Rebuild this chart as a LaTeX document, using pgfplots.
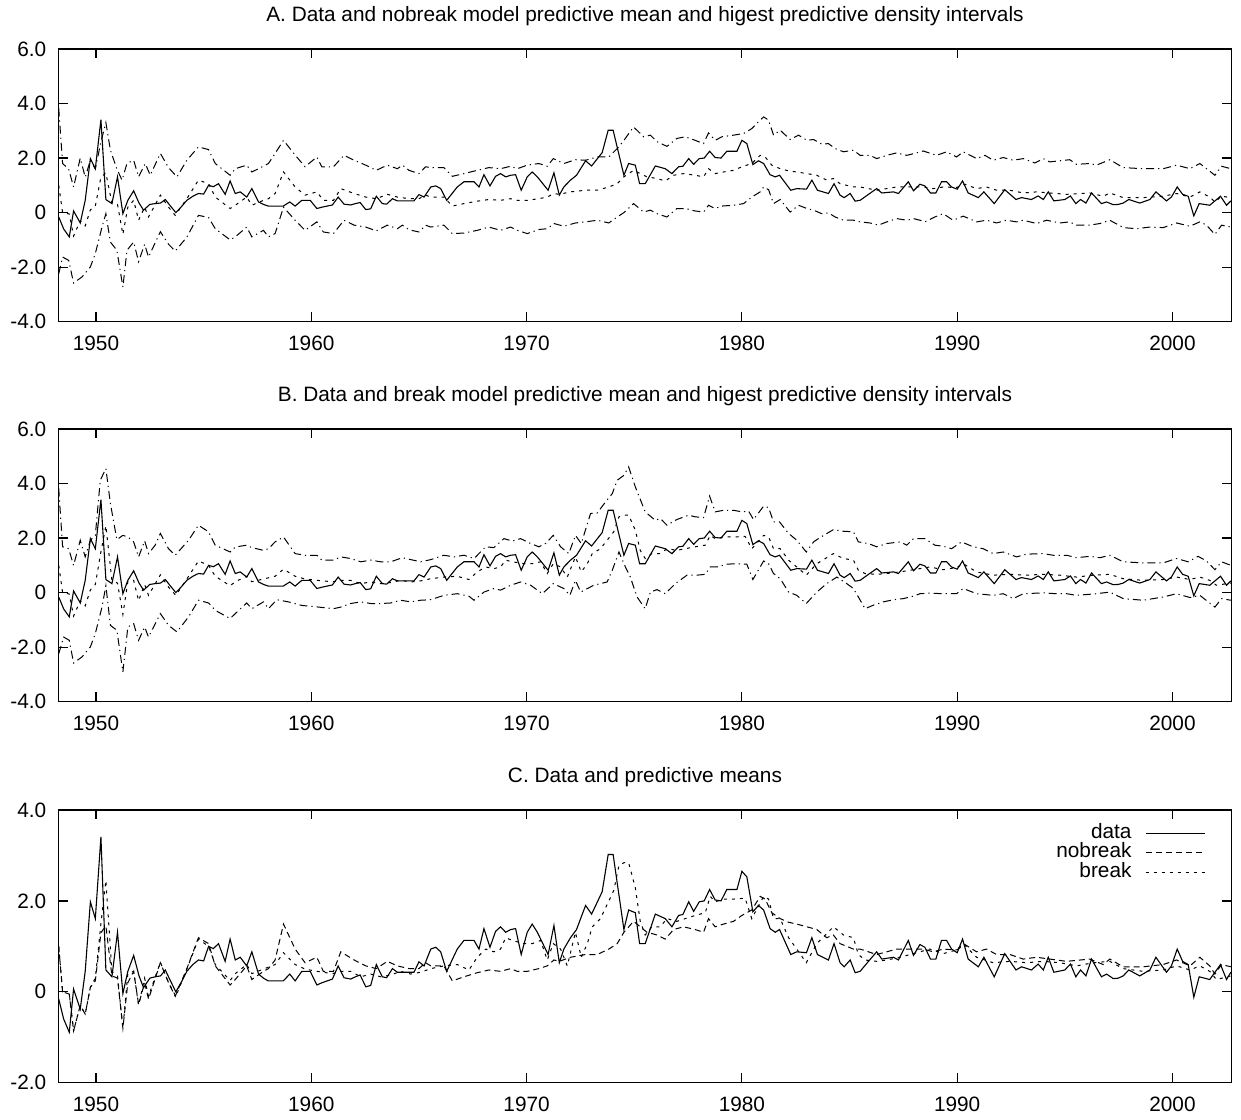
\documentclass[border=0pt]{standalone}
\usepackage{fontspec}
\setmainfont{Liberation Sans}
\usepackage{pgfplots}
\pgfplotsset{compat=1.18}
\usepackage{pgfplotstable}

% observed series (quarterly, approx.)
\pgfplotstableread[row sep=\\]{
x y\\
1948.27 -0.16\\ 1948.5 -0.6\\ 1948.76 -0.89\\ 1948.96 0.06\\ 1949.27 -0.38\\ 1949.5 0.45\\ 1949.74 1.98\\ 1949.97 1.61\\
1950.23 3.41\\ 1950.46 0.48\\ 1950.74 0.33\\ 1951.0 1.31\\ 1951.25 -0.04\\ 1951.48 0.45\\ 1951.75 0.8\\ 1952.0 0.35\\
1952.21 0.09\\ 1952.5 0.3\\ 1952.75 0.33\\ 1953.0 0.35\\ 1953.22 0.48\\ 1953.45 0.25\\ 1953.71 0.0\\ 1953.95 0.2\\
1954.22 0.45\\ 1954.5 0.6\\ 1954.76 0.7\\ 1955.0 0.68\\ 1955.23 1.0\\ 1955.45 0.95\\ 1955.69 1.06\\ 1956.0 0.67\\
1956.23 1.16\\ 1956.47 0.7\\ 1956.7 0.76\\ 1957.0 0.57\\ 1957.24 0.88\\ 1957.55 0.39\\ 1957.78 0.3\\ 1958.0 0.24\\
1958.7 0.24\\ 1959.0 0.39\\ 1959.25 0.24\\ 1959.56 0.45\\ 1959.95 0.45\\ 1960.26 0.15\\ 1960.5 0.2\\ 1960.98 0.28\\
1961.25 0.57\\ 1961.52 0.31\\ 1961.83 0.28\\ 1962.05 0.33\\ 1962.27 0.37\\ 1962.53 0.11\\ 1962.76 0.14\\ 1963.02 0.6\\
1963.3 0.33\\ 1963.5 0.31\\ 1963.77 0.51\\ 1964.0 0.43\\ 1964.77 0.43\\ 1965.0 0.66\\ 1965.24 0.57\\ 1965.55 0.94\\
1965.78 0.98\\ 1966.01 0.88\\ 1966.29 0.45\\ 1966.78 0.94\\ 1967.09 1.13\\ 1967.56 1.13\\ 1967.79 0.94\\ 1968.02 1.39\\
1968.3 0.98\\ 1968.56 1.33\\ 1968.79 1.43\\ 1969.03 1.31\\ 1969.26 1.37\\ 1969.49 1.39\\ 1969.75 0.82\\ 1970.03 1.31\\
1970.26 1.49\\ 1970.5 1.31\\ 1971.0 0.82\\ 1971.27 1.46\\ 1971.52 0.64\\ 1971.73 0.94\\ 1972.04 1.19\\ 1972.32 1.37\\
1972.74 1.9\\ 1973.02 1.71\\ 1973.51 2.2\\ 1973.79 3.02\\ 1974.02 3.02\\ 1974.52 1.37\\ 1974.74 1.8\\ 1975.05 1.74\\
1975.25 1.06\\ 1975.51 1.06\\ 1975.98 1.71\\ 1976.44 1.61\\ 1976.75 1.43\\ 1977.06 1.68\\ 1977.26 1.7\\ 1977.53 1.98\\
1977.76 1.77\\ 1978.02 1.98\\ 1978.25 2.0\\ 1978.5 2.25\\ 1978.76 2.02\\ 1979.03 2.0\\ 1979.3 2.25\\ 1979.77 2.25\\
1980.0 2.65\\ 1980.23 2.53\\ 1980.51 1.76\\ 1980.77 1.9\\ 1981.01 1.8\\ 1981.31 1.39\\ 1981.55 1.31\\ 1981.75 1.37\\
1982.27 0.82\\ 1982.55 0.88\\ 1983.0 0.86\\ 1983.25 1.19\\ 1983.51 0.82\\ 1984.02 0.7\\ 1984.28 1.06\\ 1984.56 0.64\\
1984.75 0.55\\ 1985.03 0.7\\ 1985.26 0.42\\ 1985.49 0.45\\ 1985.88 0.67\\ 1986.26 0.88\\ 1986.5 0.72\\ 1987.04 0.76\\
1987.27 0.7\\ 1987.73 1.13\\ 1987.97 0.8\\ 1988.27 1.04\\ 1988.5 0.98\\ 1988.76 0.72\\ 1989.01 0.72\\ 1989.27 1.13\\
1989.51 1.13\\ 1989.74 0.94\\ 1990.0 0.86\\ 1990.25 1.16\\ 1990.51 0.72\\ 1990.98 0.55\\ 1991.24 0.76\\ 1991.72 0.33\\
1992.21 0.84\\ 1992.73 0.48\\ 1992.99 0.55\\ 1993.45 0.48\\ 1993.76 0.61\\ 1994.0 0.48\\ 1994.23 0.76\\ 1994.49 0.43\\
1995.0 0.48\\ 1995.26 0.61\\ 1995.51 0.33\\ 1995.73 0.48\\ 1995.98 0.35\\ 1996.24 0.72\\ 1996.7 0.33\\ 1996.94 0.39\\
1997.25 0.29\\ 1997.48 0.3\\ 1997.71 0.35\\ 1997.97 0.48\\ 1998.48 0.35\\ 1998.95 0.48\\ 1999.23 0.76\\ 1999.72 0.43\\
1999.95 0.57\\ 2000.22 0.94\\ 2000.47 0.67\\ 2000.73 0.6\\ 2000.99 -0.12\\ 2001.24 0.33\\ 2001.73 0.27\\ 2002.23 0.6\\
2002.51 0.27\\ 2002.71 0.43\\
}\tdata

% nobreak model: mean, upper, lower
\pgfplotstableread[row sep=\\]{
x y\\
1948.27 1.0\\ 1948.45 0.0\\ 1948.76 -0.05\\ 1948.96 -0.86\\ 1949.27 -0.3\\ 1949.5 -0.49\\ 1949.74 0.1\\ 1949.97 0.24\\
1950.23 1.3\\ 1950.46 1.45\\ 1950.74 0.35\\ 1951.0 0.3\\ 1951.25 -0.8\\ 1951.48 0.2\\ 1951.75 0.45\\ 1951.98 -0.28\\
1952.26 0.2\\ 1952.44 -0.16\\ 1952.99 0.64\\ 1953.37 0.2\\ 1953.68 -0.1\\ 1954.22 0.51\\ 1954.76 1.19\\ 1955.23 1.06\\
1955.54 0.57\\ 1956.23 0.15\\ 1956.47 0.27\\ 1957.0 0.57\\ 1957.24 0.27\\ 1957.78 0.45\\ 1958.01 0.51\\ 1958.32 0.7\\
1958.71 1.49\\ 1959.25 0.94\\ 1959.71 0.64\\ 1960.26 0.76\\ 1960.56 0.45\\ 1961.03 0.45\\ 1961.37 0.88\\ 1961.99 0.7\\
1962.53 0.57\\ 1963.02 0.51\\ 1963.53 0.67\\ 1964.0 0.57\\ 1964.54 0.51\\ 1965.0 0.51\\ 1965.31 0.64\\ 1965.55 0.57\\
1966.16 0.57\\ 1966.55 0.24\\ 1967.09 0.33\\ 1967.71 0.42\\ 1968.25 0.48\\ 1968.79 0.45\\ 1969.26 0.51\\ 1969.57 0.45\\
1970.03 0.45\\ 1970.57 0.51\\ 1970.96 0.57\\ 1971.27 0.7\\ 1971.52 0.67\\ 1972.04 0.76\\ 1972.74 0.82\\ 1973.28 0.82\\
1973.82 0.94\\ 1974.21 1.06\\ 1974.52 1.31\\ 1974.97 1.55\\ 1975.28 1.43\\ 1975.59 1.31\\ 1976.06 1.25\\ 1976.44 1.16\\
1976.83 1.37\\ 1977.29 1.43\\ 1977.83 1.37\\ 1978.22 1.31\\ 1978.45 1.61\\ 1978.76 1.43\\ 1979.15 1.49\\ 1979.61 1.55\\
1980.0 1.68\\ 1980.46 1.8\\ 1980.85 2.1\\ 1981.08 2.04\\ 1981.39 1.74\\ 1981.78 1.61\\ 1982.17 1.53\\ 1982.55 1.49\\
1983.02 1.43\\ 1983.48 1.37\\ 1983.94 1.19\\ 1984.25 1.25\\ 1984.56 1.06\\ 1984.87 1.0\\ 1985.18 0.94\\ 1985.49 0.94\\
1985.88 0.88\\ 1986.26 0.82\\ 1986.73 0.88\\ 1987.19 0.94\\ 1987.66 0.94\\ 1988.42 0.94\\ 1988.89 0.88\\ 1989.35 0.94\\
1989.97 0.92\\ 1990.36 1.04\\ 1990.9 0.88\\ 1991.36 0.94\\ 1991.83 0.82\\ 1992.45 0.82\\ 1993.07 0.72\\ 1993.69 0.76\\
1994.3 0.72\\ 1995.08 0.67\\ 1996.16 0.72\\ 1996.78 0.6\\ 1997.09 0.72\\ 1997.71 0.55\\ 1998.64 0.55\\ 1999.57 0.6\\
2000.19 0.7\\ 2000.81 0.57\\ 2001.27 0.76\\ 2001.73 0.57\\ 2001.97 0.39\\ 2002.28 0.6\\ 2002.71 0.55\\
}\tnm

\pgfplotstableread[row sep=\\]{
x y\\
1948.27 3.82\\ 1948.45 1.8\\ 1948.73 1.6\\ 1948.96 0.94\\ 1949.27 2.0\\ 1949.5 1.3\\ 1949.74 1.92\\ 1949.97 1.6\\
1950.23 2.6\\ 1950.46 3.3\\ 1950.67 2.29\\ 1950.97 1.6\\ 1951.21 1.19\\ 1951.44 1.8\\ 1951.75 1.92\\ 1951.98 1.31\\
1952.29 1.8\\ 1952.52 1.37\\ 1952.99 2.17\\ 1953.37 1.65\\ 1953.76 1.31\\ 1954.22 1.92\\ 1954.76 2.41\\ 1955.23 2.31\\
1955.54 1.8\\ 1956.23 1.37\\ 1956.47 1.61\\ 1957.0 1.74\\ 1957.24 1.49\\ 1957.55 1.61\\ 1958.01 1.8\\ 1958.32 2.17\\
1958.71 2.65\\ 1959.25 2.11\\ 1959.71 1.68\\ 1960.26 2.04\\ 1960.49 1.68\\ 1961.03 1.68\\ 1961.52 2.1\\ 1961.99 1.92\\
1962.53 1.74\\ 1963.02 1.55\\ 1963.53 1.74\\ 1964.0 1.61\\ 1964.23 1.74\\ 1964.54 1.55\\ 1965.0 1.43\\ 1965.31 1.68\\
1965.55 1.65\\ 1966.16 1.65\\ 1966.55 1.33\\ 1967.09 1.43\\ 1967.71 1.55\\ 1968.25 1.65\\ 1968.79 1.61\\ 1969.26 1.7\\
1969.57 1.61\\ 1970.03 1.74\\ 1970.57 1.8\\ 1970.96 1.7\\ 1971.24 1.98\\ 1971.73 1.8\\ 1972.27 1.94\\ 1972.74 1.92\\
1973.28 2.04\\ 1973.82 2.04\\ 1974.21 2.35\\ 1974.52 2.65\\ 1974.97 3.14\\ 1975.44 2.78\\ 1975.75 2.84\\ 1976.06 2.6\\
1976.52 2.43\\ 1976.98 2.72\\ 1977.37 2.78\\ 1977.83 2.65\\ 1978.22 2.53\\ 1978.45 2.92\\ 1978.76 2.65\\ 1979.07 2.78\\
1979.61 2.84\\ 1980.08 2.9\\ 1980.46 3.08\\ 1980.77 3.33\\ 1981.01 3.51\\ 1981.24 3.39\\ 1981.47 2.84\\ 1981.78 3.02\\
1982.24 2.68\\ 1982.63 2.84\\ 1983.02 2.65\\ 1983.33 2.68\\ 1983.71 2.51\\ 1984.02 2.53\\ 1984.33 2.35\\ 1984.72 2.23\\
1985.18 2.29\\ 1985.49 2.1\\ 1985.95 2.1\\ 1986.26 1.98\\ 1986.73 2.1\\ 1987.19 2.19\\ 1987.66 2.1\\ 1987.97 2.16\\
1988.42 2.26\\ 1989.04 2.1\\ 1989.51 2.23\\ 1989.97 2.04\\ 1990.28 2.23\\ 1990.9 1.98\\ 1991.29 2.1\\ 1991.67 1.92\\
1992.14 2.02\\ 1992.6 1.92\\ 1993.07 1.98\\ 1993.61 1.82\\ 1994.0 1.98\\ 1994.3 1.86\\ 1994.77 1.9\\ 1995.23 1.94\\
1995.54 1.77\\ 1996.16 1.8\\ 1996.47 1.74\\ 1997.09 1.94\\ 1997.71 1.65\\ 1998.64 1.61\\ 1999.57 1.61\\ 2000.19 1.74\\
2000.81 1.61\\ 2001.27 1.8\\ 2001.58 1.61\\ 2001.97 1.37\\ 2002.28 1.7\\ 2002.71 1.61\\
}\tnu

\pgfplotstableread[row sep=\\]{
x y\\
1948.27 -2.24\\ 1948.45 -1.63\\ 1948.73 -1.75\\ 1948.96 -2.58\\ 1949.35 -2.36\\ 1949.74 -1.99\\ 1949.97 -1.5\\ 1950.28 -0.53\\
1950.46 -0.04\\ 1950.67 -1.08\\ 1950.97 -1.38\\ 1951.25 -2.73\\ 1951.44 -1.38\\ 1951.75 -1.08\\ 1951.98 -1.8\\ 1952.26 -1.16\\
1952.44 -1.63\\ 1952.99 -0.7\\ 1953.37 -1.16\\ 1953.68 -1.41\\ 1954.22 -0.9\\ 1954.76 -0.1\\ 1955.23 -0.18\\ 1955.54 -0.59\\
1956.23 -1.0\\ 1956.47 -0.89\\ 1957.0 -0.53\\ 1957.24 -0.89\\ 1957.78 -0.65\\ 1958.01 -0.89\\ 1958.32 -0.77\\ 1958.71 0.2\\
1959.25 -0.28\\ 1959.71 -0.65\\ 1960.26 -0.34\\ 1960.56 -0.71\\ 1961.03 -0.77\\ 1961.52 -0.28\\ 1961.99 -0.46\\ 1962.53 -0.53\\
1963.02 -0.67\\ 1963.53 -0.46\\ 1964.0 -0.59\\ 1964.23 -0.46\\ 1964.54 -0.63\\ 1965.0 -0.71\\ 1965.31 -0.46\\ 1965.55 -0.53\\
1966.16 -0.46\\ 1966.55 -0.77\\ 1967.09 -0.75\\ 1967.71 -0.65\\ 1968.25 -0.53\\ 1968.79 -0.65\\ 1969.26 -0.53\\ 1969.57 -0.65\\
1970.03 -0.77\\ 1970.57 -0.62\\ 1970.96 -0.59\\ 1971.27 -0.4\\ 1971.73 -0.5\\ 1972.27 -0.38\\ 1972.74 -0.34\\ 1973.28 -0.28\\
1973.82 -0.38\\ 1974.21 -0.16\\ 1974.52 0.0\\ 1974.97 0.33\\ 1975.44 0.02\\ 1975.75 0.09\\ 1976.06 -0.04\\ 1976.52 -0.16\\
1976.98 0.15\\ 1977.37 0.15\\ 1977.83 0.06\\ 1978.22 0.02\\ 1978.45 0.27\\ 1978.76 0.15\\ 1979.07 0.24\\ 1979.61 0.27\\
1980.08 0.33\\ 1980.46 0.57\\ 1980.85 0.76\\ 1981.01 0.94\\ 1981.24 0.84\\ 1981.47 0.33\\ 1981.78 0.48\\ 1982.24 0.02\\
1982.63 0.27\\ 1983.02 0.15\\ 1983.33 0.09\\ 1983.71 -0.04\\ 1984.02 -0.01\\ 1984.33 -0.16\\ 1984.72 -0.28\\ 1985.18 -0.28\\
1985.49 -0.34\\ 1985.95 -0.38\\ 1986.34 -0.46\\ 1986.73 -0.34\\ 1987.19 -0.22\\ 1987.66 -0.28\\ 1987.97 -0.22\\ 1988.27 -0.28\\
1988.5 -0.34\\ 1988.96 -0.16\\ 1989.35 -0.04\\ 1989.81 -0.28\\ 1990.28 -0.13\\ 1990.9 -0.34\\ 1991.36 -0.28\\ 1991.83 -0.38\\
1992.29 -0.28\\ 1992.76 -0.34\\ 1993.07 -0.28\\ 1993.69 -0.4\\ 1994.15 -0.28\\ 1994.77 -0.38\\ 1995.23 -0.34\\ 1995.54 -0.46\\
1996.16 -0.46\\ 1996.63 -0.4\\ 1997.09 -0.28\\ 1997.71 -0.55\\ 1998.33 -0.59\\ 1998.95 -0.53\\ 1999.57 -0.55\\ 2000.19 -0.38\\
2000.81 -0.5\\ 2001.27 -0.34\\ 2001.58 -0.46\\ 2001.97 -0.8\\ 2002.28 -0.46\\ 2002.71 -0.53\\
}\tnl

% break model: mean, upper, lower
\pgfplotstableread[row sep=\\]{
x y\\
1948.27 1.0\\ 1948.45 0.0\\ 1948.76 -0.05\\ 1948.96 -0.86\\ 1949.27 -0.3\\ 1949.5 -0.49\\ 1949.74 0.1\\ 1949.97 0.3\\
1950.23 1.5\\ 1950.46 2.45\\ 1950.74 0.45\\ 1951.0 0.35\\ 1951.25 -0.8\\ 1951.48 0.4\\ 1951.75 0.45\\ 1951.98 -0.3\\
1952.26 0.3\\ 1952.44 -0.1\\ 1952.99 0.65\\ 1953.37 0.2\\ 1953.71 -0.1\\ 1954.22 0.5\\ 1954.76 1.16\\ 1955.23 1.0\\
1955.54 0.6\\ 1956.23 0.25\\ 1956.47 0.4\\ 1957.0 0.6\\ 1957.24 0.4\\ 1957.78 0.5\\ 1958.32 0.6\\ 1958.71 0.86\\
1959.25 0.6\\ 1959.71 0.5\\ 1960.26 0.45\\ 1960.98 0.4\\ 1961.37 0.45\\ 1961.83 0.45\\ 1962.3 0.33\\ 1962.76 0.39\\
1963.23 0.33\\ 1963.69 0.37\\ 1964.15 0.45\\ 1964.62 0.39\\ 1965.08 0.43\\ 1965.55 0.51\\ 1966.16 0.57\\ 1966.78 0.6\\
1967.32 0.48\\ 1967.71 0.76\\ 1968.1 0.94\\ 1968.48 0.88\\ 1968.79 0.94\\ 1969.03 1.19\\ 1969.34 1.13\\ 1969.88 1.06\\
1970.26 1.06\\ 1970.65 1.13\\ 1970.96 0.7\\ 1971.24 1.06\\ 1971.58 0.94\\ 1971.89 0.57\\ 1972.27 1.31\\ 1972.54 0.76\\
1972.82 1.06\\ 1973.05 1.43\\ 1973.43 1.61\\ 1973.74 1.92\\ 1974.05 2.23\\ 1974.29 2.78\\ 1974.52 2.84\\ 1974.74 2.84\\
1975.05 2.29\\ 1975.28 1.55\\ 1975.51 1.25\\ 1975.82 1.43\\ 1976.21 1.43\\ 1976.52 1.61\\ 1976.98 1.55\\ 1977.37 1.61\\
1977.83 1.68\\ 1978.3 1.74\\ 1978.53 2.1\\ 1978.76 1.98\\ 1979.15 2.04\\ 1979.61 2.04\\ 1980.15 2.06\\ 1980.46 1.61\\
1981.01 2.1\\ 1981.24 2.04\\ 1981.47 1.61\\ 1981.78 1.61\\ 1982.17 1.19\\ 1982.55 0.94\\ 1982.99 0.64\\ 1983.48 1.06\\
1984.25 1.43\\ 1984.72 1.25\\ 1985.18 1.19\\ 1985.41 0.82\\ 1985.72 0.7\\ 1986.26 0.67\\ 1986.73 0.7\\ 1987.35 0.76\\
1987.81 0.82\\ 1988.27 0.88\\ 1988.73 0.94\\ 1989.35 0.84\\ 1989.97 0.92\\ 1990.28 1.06\\ 1990.9 0.76\\ 1991.67 0.64\\
1992.45 0.67\\ 1993.22 0.64\\ 1994.0 0.67\\ 1994.77 0.64\\ 1995.54 0.57\\ 1996.32 0.64\\ 1997.09 0.67\\ 1997.71 0.51\\
1998.64 0.45\\ 1999.57 0.48\\ 2000.19 0.57\\ 2000.81 0.48\\ 2001.27 0.57\\ 2001.73 0.45\\ 2002.04 0.27\\ 2002.71 0.35\\
}\tbm

\pgfplotstableread[row sep=\\]{
x y\\
1948.27 3.82\\ 1948.45 1.68\\ 1948.73 1.61\\ 1948.96 1.0\\ 1949.27 1.92\\ 1949.5 1.31\\ 1949.74 1.92\\ 1949.97 2.1\\
1950.2 4.12\\ 1950.46 4.55\\ 1950.67 3.27\\ 1950.97 1.94\\ 1951.25 2.1\\ 1951.48 2.04\\ 1951.75 1.86\\ 1951.98 1.31\\
1952.26 1.9\\ 1952.44 1.43\\ 1952.75 1.74\\ 1952.99 2.17\\ 1953.37 1.61\\ 1953.68 1.37\\ 1954.3 1.92\\ 1954.76 2.47\\
1955.23 2.23\\ 1955.54 1.74\\ 1956.23 1.49\\ 1956.47 1.67\\ 1957.0 1.74\\ 1957.24 1.65\\ 1957.78 1.55\\ 1958.01 1.61\\
1958.32 1.86\\ 1958.71 2.04\\ 1959.25 1.43\\ 1959.71 1.37\\ 1960.26 1.37\\ 1960.49 1.19\\ 1961.03 1.19\\ 1961.37 1.31\\
1961.83 1.25\\ 1962.3 1.13\\ 1962.76 1.19\\ 1963.23 1.13\\ 1963.69 1.13\\ 1964.23 1.28\\ 1964.62 1.21\\ 1965.08 1.13\\
1965.55 1.21\\ 1966.16 1.37\\ 1966.63 1.31\\ 1967.09 1.37\\ 1967.56 1.25\\ 1968.1 1.68\\ 1968.48 1.65\\ 1968.95 1.98\\
1969.34 1.89\\ 1969.72 1.98\\ 1970.19 1.8\\ 1970.57 1.68\\ 1970.88 1.8\\ 1971.24 2.1\\ 1971.58 1.68\\ 1971.96 1.43\\
1972.27 2.1\\ 1972.54 1.8\\ 1972.97 2.9\\ 1973.28 2.92\\ 1973.67 3.33\\ 1973.98 3.63\\ 1974.21 4.12\\ 1974.52 4.3\\
1974.74 4.61\\ 1975.05 3.88\\ 1975.51 2.96\\ 1975.98 2.65\\ 1976.21 2.72\\ 1976.52 2.47\\ 1976.98 2.68\\ 1977.53 2.84\\
1977.83 2.78\\ 1978.22 2.75\\ 1978.5 3.54\\ 1978.76 2.96\\ 1979.15 3.02\\ 1979.61 3.02\\ 1980.0 2.96\\ 1980.31 2.99\\
1980.54 2.68\\ 1981.01 3.17\\ 1981.24 3.12\\ 1981.47 2.59\\ 1981.75 2.59\\ 1982.17 2.17\\ 1982.55 1.92\\ 1982.99 1.49\\
1983.33 1.86\\ 1983.63 2.02\\ 1984.25 2.31\\ 1984.72 2.25\\ 1985.18 2.23\\ 1985.41 1.86\\ 1985.88 1.8\\ 1986.26 1.68\\
1986.73 1.8\\ 1987.35 1.86\\ 1987.66 1.74\\ 1987.97 1.98\\ 1988.5 1.98\\ 1988.96 1.74\\ 1989.35 1.7\\ 1989.74 1.61\\
1990.2 1.86\\ 1990.74 1.68\\ 1991.21 1.61\\ 1991.67 1.43\\ 1992.14 1.49\\ 1992.76 1.31\\ 1993.22 1.41\\ 1994.0 1.43\\
1994.46 1.37\\ 1995.08 1.37\\ 1995.54 1.28\\ 1996.16 1.33\\ 1996.63 1.28\\ 1997.09 1.37\\ 1997.71 1.13\\ 1998.64 1.09\\
1999.57 1.09\\ 2000.19 1.25\\ 2000.73 1.13\\ 2001.19 1.33\\ 2001.58 1.16\\ 2001.97 0.84\\ 2002.28 1.13\\ 2002.71 1.0\\
}\tbu

\pgfplotstableread[row sep=\\]{
x y\\
1948.27 -2.24\\ 1948.5 -1.63\\ 1948.76 -1.75\\ 1948.96 -2.58\\ 1949.35 -2.36\\ 1949.74 -1.99\\ 1949.97 -1.5\\ 1950.28 -0.53\\
1950.46 0.25\\ 1950.67 -1.2\\ 1950.97 -1.38\\ 1951.25 -2.91\\ 1951.48 -1.26\\ 1951.75 -1.14\\ 1951.98 -1.75\\ 1952.26 -1.26\\
1952.44 -1.63\\ 1952.99 -0.77\\ 1953.37 -1.2\\ 1953.76 -1.44\\ 1954.3 -0.89\\ 1954.76 -0.28\\ 1955.23 -0.38\\ 1955.54 -0.65\\
1956.23 -0.95\\ 1956.47 -0.77\\ 1957.0 -0.38\\ 1957.24 -0.59\\ 1957.78 -0.34\\ 1958.01 -0.59\\ 1958.4 -0.26\\ 1958.94 -0.34\\
1959.56 -0.47\\ 1960.33 -0.53\\ 1961.03 -0.59\\ 1961.37 -0.53\\ 1961.83 -0.4\\ 1962.3 -0.34\\ 1962.76 -0.4\\ 1963.23 -0.4\\
1963.69 -0.38\\ 1964.15 -0.28\\ 1964.62 -0.34\\ 1965.08 -0.28\\ 1965.55 -0.26\\ 1966.16 -0.1\\ 1966.78 -0.04\\ 1967.32 -0.13\\
1967.56 -0.28\\ 1968.02 0.02\\ 1968.48 0.15\\ 1968.79 0.09\\ 1969.26 0.27\\ 1969.72 0.39\\ 1970.19 0.27\\ 1970.73 -0.04\\
1971.24 0.33\\ 1971.73 0.15\\ 1972.01 -0.1\\ 1972.27 0.45\\ 1972.51 0.02\\ 1973.12 0.27\\ 1973.74 0.39\\ 1973.98 0.82\\
1974.29 1.49\\ 1974.59 0.94\\ 1974.82 0.57\\ 1975.13 -0.16\\ 1975.51 -0.59\\ 1975.75 0.02\\ 1976.06 0.11\\ 1976.44 -0.04\\
1976.91 0.33\\ 1977.45 0.64\\ 1977.91 0.64\\ 1978.3 0.67\\ 1978.53 0.94\\ 1978.84 0.94\\ 1979.3 1.04\\ 1979.69 1.06\\
1980.23 1.04\\ 1980.51 0.48\\ 1981.01 1.16\\ 1981.24 1.06\\ 1981.47 0.7\\ 1981.78 0.51\\ 1982.17 0.02\\ 1982.55 -0.1\\
1982.99 -0.4\\ 1983.48 0.02\\ 1983.94 0.33\\ 1984.41 0.57\\ 1984.87 0.33\\ 1985.18 0.15\\ 1985.41 -0.16\\ 1985.72 -0.59\\
1986.11 -0.46\\ 1986.57 -0.34\\ 1987.04 -0.26\\ 1987.5 -0.22\\ 1987.97 -0.13\\ 1988.27 -0.04\\ 1988.73 -0.02\\ 1989.35 -0.04\\
1989.97 -0.04\\ 1990.28 0.15\\ 1990.9 -0.04\\ 1991.67 -0.1\\ 1992.14 -0.04\\ 1992.6 -0.22\\ 1993.07 -0.04\\ 1994.0 -0.01\\
1994.61 -0.04\\ 1995.08 -0.04\\ 1995.54 -0.1\\ 1996.47 -0.04\\ 1997.09 0.02\\ 1997.71 -0.22\\ 1998.64 -0.28\\ 1999.57 -0.16\\
2000.19 -0.04\\ 2000.81 -0.18\\ 2001.27 -0.1\\ 2001.97 -0.53\\ 2002.28 -0.22\\ 2002.71 -0.28\\
}\tbl

\newcommand\gpfont{\fontsize{10.4}{12.5}\selectfont}

\pgfplotsset{
  gp/.style={
    scale only axis, width=586.7pt, height=136.35pt, anchor=south west,
    xmin=1948.25, xmax=2002.75,
    xtick={1950,1960,1970,1980,1990,2000},
    xticklabels={1950,1960,1970,1980,1990,2000},
    tick align=inside, major tick length=4.7pt,
    every tick/.style={black, line width=0.6pt},
    axis line style={black, line width=0.7pt},
    tick label style={font=\gpfont},
    xticklabel style={yshift=-3.5pt},
    yticklabel style={xshift=-2.5pt},
    title style={font=\gpfont, at={(0.5,1)}, anchor=base, yshift=7.5pt},
  },
  dl/.style={black, line width=0.55pt},
  nd/.style={black, line width=0.5pt, dash pattern=on 3pt off 2pt},
  sd/.style={black, line width=0.5pt, dash pattern=on 1.5pt off 2.5pt},
  dd/.style={black, line width=0.5pt, dash pattern=on 4pt off 2pt on 0.6pt off 2pt},
}

\begin{document}
\begin{tikzpicture}[font=\gpfont]
\useasboundingbox (0,0) rectangle (620.5pt,559.5pt);

\begin{axis}[gp, at={(29.15pt,398.65pt)},
  ymin=-4, ymax=6, ytick={-4,-2,0,2,4,6},
  yticklabels={-4.0,-2.0,0,2.0,4.0,6.0},
  title={A. Data and nobreak model predictive mean and higest predictive density intervals}]
\addplot[dl] table {\tdata};
\addplot[sd] table {\tnm};
\addplot[dd] table {\tnu};
\addplot[dd] table {\tnl};
\end{axis}

\begin{axis}[gp, at={(29.15pt,208.65pt)},
  ymin=-4, ymax=6, ytick={-4,-2,0,2,4,6},
  yticklabels={-4.0,-2.0,0,2.0,4.0,6.0},
  title={B. Data and break model predictive mean and higest predictive density intervals}]
\addplot[dl] table {\tdata};
\addplot[sd] table {\tbm};
\addplot[dd] table {\tbu};
\addplot[dd] table {\tbl};
\end{axis}

\begin{axis}[gp, at={(29.15pt,18.15pt)},
  ymin=-2, ymax=4, ytick={-2,0,2,4},
  yticklabels={-2.0,0,2.0,4.0},
  title={C. Data and predictive means},
  legend plot pos=right, legend cell align=right,
  legend image code/.code={\draw[#1] (0pt,0pt) -- (29.5pt,0pt);},
  legend style={at={(1,1)}, anchor=north east, xshift=-12.85pt, yshift=-6.5pt,
    draw=none, fill=none, font=\gpfont, inner sep=0pt, column sep=7pt,
    nodes={inner sep=0pt, text height=7.5pt, text depth=2.25pt}}]
\addplot[dl] table {\tdata};
\addlegendentry{data}
\addplot[nd] table {\tnm};
\addlegendentry{nobreak}
\addplot[sd] table {\tbm};
\addlegendentry{break}
\end{axis}
\end{tikzpicture}
\end{document}
